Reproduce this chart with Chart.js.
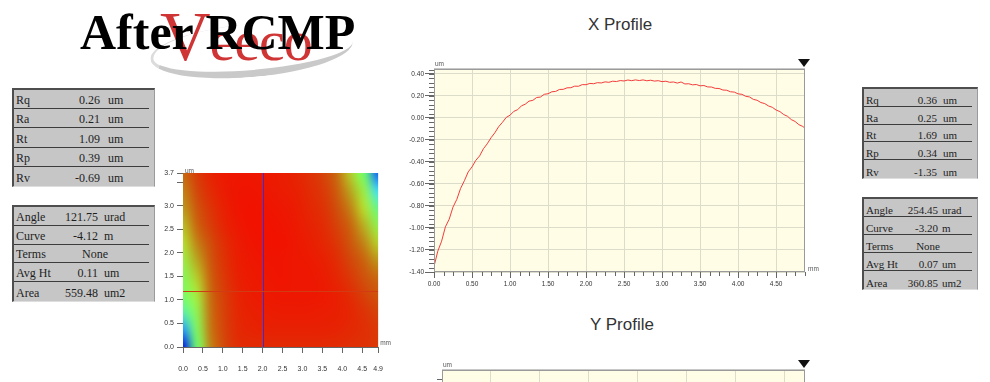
<!DOCTYPE html>
<html>
<head>
<meta charset="utf-8">
<script src="https://cdn.jsdelivr.net/npm/chart.js@4.4.1/dist/chart.umd.min.js"></script>
<style>
  html, body { margin: 0; padding: 0; background: #fff; }
  #page { position: relative; width: 990px; height: 382px; overflow: hidden; background: #fff; }
  canvas { position: absolute; }
  .title { position: absolute; left: 80px; top: 3px; font: bold 50px "Liberation Serif", "Times New Roman", serif; color: #000; z-index: 3; white-space: nowrap; }
  .logo { position: absolute; left: 160px; top: -3px; font: 58px "Liberation Serif", serif; color: #d03535; z-index: 2; letter-spacing: -1px; }
  .logo b { font-weight: normal; font-size: 70px; }
  .swoosh { position: absolute; left: 150px; top: 24px; width: 200px; height: 46px; border-radius: 50%; border-bottom: 7px solid #c9c9c9; border-left: 3px solid #dcdcdc; transform: rotate(-5deg); z-index: 1; }
  .ptitle { position: absolute; width: 200px; text-align: center; font: 17px "Liberation Sans", Arial, sans-serif; color: #333; }
  .box { position: absolute; background: #c6c6c6; border-top: 2px solid #4e4e4e; border-left: 2px solid #4e4e4e; border-right: 1px solid #9a9a9a; border-bottom: 1px solid #dedede; font-family: "Liberation Serif", "Times New Roman", serif; color: #1e1e1e; box-sizing: border-box; }
  .row { position: relative; border-bottom: 1px solid #3c3c3c; margin-right: 5px; box-sizing: border-box; }
  .row:last-child { border-bottom: none; }
  .row span { position: absolute; bottom: 0; white-space: nowrap; }
  .tri { position: absolute; width: 0; height: 0; border-left: 6px solid transparent; border-right: 6px solid transparent; border-top: 8px solid #111; }
</style>
</head>
<body>
<div id="page">
  <div class="swoosh"></div>
  <div class="logo"><b>V</b>eeco</div>
  <div class="title">After RCMP</div>
  <div class="ptitle" style="left:520px; top:15px;">X Profile</div>
  <div class="ptitle" style="left:522px; top:315px;">Y Profile</div>
  <div class="tri" style="left:798px; top:59px;"></div>
  <div class="tri" style="left:798px; top:360px;"></div>
  <canvas id="map" width="240" height="222" style="left:155px; top:160px;"></canvas>
  <canvas id="xprof" width="420" height="240" style="left:400px; top:55px;"></canvas>
  <canvas id="yprof" width="420" height="120" style="left:400px; top:350px;"></canvas>
</div>
<script>
// ---- X profile (um vs mm) ----
const xProfileX = [0.00,0.05,0.10,0.15,0.20,0.25,0.30,0.35,0.40,0.45,0.50,0.55,0.60,0.65,0.70,0.75,0.80,0.85,0.90,0.95,
  1.00,1.05,1.10,1.15,1.20,1.25,1.30,1.35,1.40,1.45,1.50,1.55,1.60,1.65,1.70,1.75,1.80,1.85,1.90,1.95,
  2.00,2.05,2.10,2.15,2.20,2.25,2.30,2.35,2.40,2.45,2.50,2.55,2.60,2.65,2.70,2.75,2.80,2.85,2.90,2.95,
  3.00,3.05,3.10,3.15,3.20,3.25,3.30,3.35,3.40,3.45,3.50,3.55,3.60,3.65,3.70,3.75,3.80,3.85,3.90,3.95,
  4.00,4.05,4.10,4.15,4.20,4.25,4.30,4.35,4.40,4.45,4.50,4.55,4.60,4.65,4.70,4.75,4.80,4.85,4.88];
const xProfileY = [-1.35,-1.21,-1.12,-0.99,-0.92,-0.81,-0.74,-0.64,-0.57,-0.49,-0.445,-0.385,-0.345,-0.28,-0.235,-0.18,-0.135,-0.08,-0.04,0.005,
  0.025,0.06,0.075,0.11,0.125,0.153,0.16,0.186,0.19,0.215,0.22,0.238,0.241,0.259,0.26,0.274,0.275,0.289,0.288,0.303,
  0.302,0.314,0.311,0.321,0.318,0.328,0.324,0.334,0.331,0.340,0.336,0.345,0.339,0.346,0.340,0.346,0.338,0.343,0.335,0.339,
  0.330,0.334,0.324,0.327,0.317,0.327,0.309,0.311,0.301,0.304,0.292,0.295,0.282,0.281,0.269,0.268,0.254,0.252,0.238,0.235,
  0.219,0.215,0.197,0.191,0.169,0.161,0.140,0.131,0.109,0.097,0.072,0.058,0.031,0.015,-0.015,-0.032,-0.061,-0.077,-0.092];
const xProfTicksX = [0,0.5,1,1.5,2,2.5,3,3.5,4,4.5];
const xProfTicksY = [-1.4,-1.2,-1.0,-0.8,-0.6,-0.4,-0.2,0,0.2,0.4];
const yProfTicksX = [0,0.5,1,1.5,2,2.5,3,3.5];

// ---- surface map (height, normalised 0..1), rows from y = 3.7 down to 0 ----
const heatX = [0,0.35,0.7,1.05,1.4,1.75,2.1,2.45,2.8,3.15,3.5,3.85,4.2,4.55,4.9];
const heatY = [3.7,3.33,2.96,2.59,2.22,1.85,1.48,1.11,0.74,0.37,0];
const heatZ = [
  [.62,.80,.91,.96,.97,.97,.96,.94,.91,.86,.78,.62,.46,.30,.08],
  [.58,.76,.88,.95,.98,.98,.97,.95,.93,.88,.82,.68,.52,.37,.20],
  [.54,.70,.84,.93,.98,.99,.98,.97,.95,.90,.85,.73,.58,.43,.28],
  [.48,.64,.80,.91,.97,.99,.99,.98,.96,.92,.88,.78,.64,.50,.36],
  [.43,.58,.74,.87,.95,.98,.99,.99,.97,.94,.90,.83,.70,.57,.45],
  [.38,.52,.70,.85,.94,.97,.98,.98,.97,.96,.93,.87,.76,.64,.54],
  [.34,.46,.66,.83,.93,.96,.97,.98,.97,.97,.95,.90,.82,.71,.62],
  [.32,.40,.62,.80,.91,.95,.96,.97,.97,.97,.96,.93,.87,.78,.70],
  [.26,.36,.61,.79,.90,.93,.94,.95,.95,.95,.94,.93,.90,.84,.77],
  [.14,.33,.60,.78,.89,.91,.92,.92,.92,.92,.92,.91,.89,.86,.82],
  [.00,.30,.58,.76,.87,.88,.88,.88,.88,.88,.88,.87,.86,.85,.82]
];
const mapTicksX = [0,0.5,1,1.5,2,2.5,3,3.5,4,4.5,4.9];
const mapTicksY = [0,0.5,1,1.5,2,2.5,3,3.5,3.7];
const cutX = 2.0, cutY = 1.2;

// ---- statistic tables ----
const statsLeftR = [['Rq','0.26','um'],['Ra','0.21','um'],['Rt','1.09','um'],['Rp','0.39','um'],['Rv','-0.69','um']];
const statsLeftF = [['Angle','121.75','urad'],['Curve','-4.12','m'],['Terms','None',''],['Avg Ht','0.11','um'],['Area','559.48','um2']];
const statsRightR = [['Rq','0.36','um'],['Ra','0.25','um'],['Rt','1.69','um'],['Rp','0.34','um'],['Rv','-1.35','um']];
const statsRightF = [['Angle','254.45','urad'],['Curve','-3.20','m'],['Terms','None',''],['Avg Ht','0.07','um'],['Area','360.85','um2']];

const page = document.getElementById('page');
const makeBox = (rows, b) => {
  const d = document.createElement('div');
  d.className = 'box';
  Object.assign(d.style, { left: b.left + 'px', top: b.top + 'px', width: b.w + 'px', height: b.h + 'px', fontSize: b.fs + 'px' });
  const rh = (b.h - 3) / rows.length;
  rows.forEach(([lab, val, unit]) => {
    const r = document.createElement('div');
    r.className = 'row';
    r.style.height = rh + 'px';
    const vr = unit ? b.valR : b.valR + b.noneShift;
    r.innerHTML = `<span style="left:2px">${lab}</span><span style="right:${b.w - 3 - 5 - vr}px">${val}</span>` +
      (unit ? `<span style="left:${b.unitL}px">${unit}</span>` : '');
    d.appendChild(r);
  });
  page.appendChild(d);
};
makeBox(statsLeftR, { left: 12, top: 88, w: 143, h: 99, fs: 12, valR: 86, unitL: 94, noneShift: 10 });
makeBox(statsLeftF, { left: 12, top: 205, w: 143, h: 97, fs: 12, valR: 84, unitL: 90, noneShift: 10 });
makeBox(statsRightR, { left: 862, top: 87, w: 116, h: 92, fs: 11, valR: 73, unitL: 79, noneShift: 2 });
makeBox(statsRightF, { left: 862, top: 197, w: 116, h: 93, fs: 11, valR: 74, unitL: 78, noneShift: 2 });

Chart.defaults.font.family = '"Liberation Sans", Arial, sans-serif';
Chart.defaults.color = '#333';

// colour ramp of the map: blue -> cyan -> green -> olive -> brown -> red
const ramp = [[0,[0,20,230]],[.1,[20,110,255]],[.2,[60,220,255]],[.3,[110,255,110]],[.42,[180,230,50]],
  [.52,[185,165,30]],[.62,[200,105,15]],[.75,[210,72,10]],[.88,[226,42,4]],[1,[242,16,0]]];
const colorAt = z => {
  for (let i = 1; i < ramp.length; i++) {
    if (z <= ramp[i][0]) {
      const [z0, c0] = ramp[i - 1], [z1, c1] = ramp[i];
      const t = (z - z0) / (z1 - z0);
      return c0.map((c, k) => Math.round(c + (c1[k] - c) * t));
    }
  }
  return ramp[ramp.length - 1][1];
};

const setTicks = arr => s => { s.ticks = arr.map(v => ({ value: v })); };
const tickFont = { size: 6.5 };

// fond, cornice, tacche minori ed etichette unità dei profili
const profileDecor = (minorX, minorY, ticksY) => ({
  id: 'profileDecor',
  beforeDraw(chart) {
    const { ctx, chartArea: a } = chart;
    ctx.save();
    ctx.fillStyle = '#fffde6';
    ctx.fillRect(a.left, a.top, a.width, a.height);
    ctx.restore();
  },
  afterDraw(chart) {
    const { ctx, chartArea: a, scales: { x, y } } = chart;
    ctx.save();
    ctx.strokeStyle = '#666';
    ctx.lineWidth = 1;
    ctx.beginPath();
    for (let v = x.min; v <= x.max + 1e-9; v += minorX) {
      const px = Math.round(x.getPixelForValue(v)) + 0.5;
      ctx.moveTo(px, a.bottom); ctx.lineTo(px, a.bottom + 4);
    }
    if (ticksY) {
      for (let v = y.min; v <= y.max + 1e-9; v += minorY) {
        const py = Math.round(y.getPixelForValue(v)) + 0.5;
        ctx.moveTo(a.left - 5, py); ctx.lineTo(a.left, py);
      }
    } else {
      const py = a.top + 9.5;
      ctx.moveTo(a.left - 5, py); ctx.lineTo(a.left, py);
    }
    ctx.stroke();
    ctx.strokeStyle = '#9a9a9a';
    ctx.strokeRect(a.left + 0.5, a.top + 0.5, a.width - 1, a.height - 1);
    ctx.strokeStyle = '#c8c8c8';
    ctx.beginPath(); ctx.moveTo(a.left, a.top - 0.5); ctx.lineTo(a.right, a.top - 0.5); ctx.stroke();
    ctx.fillStyle = '#555';
    ctx.font = '6.5px "Liberation Sans", Arial';
    ctx.textBaseline = 'bottom';
    ctx.fillText('um', a.left + 1, a.top - 2);
    ctx.textBaseline = 'middle';
    ctx.fillText('mm', a.right + 3, a.bottom - 3);
    ctx.restore();
  }
});

new Chart(document.getElementById('xprof'), {
  type: 'line',
  data: { datasets: [{ data: xProfileX.map((x, i) => ({ x, y: xProfileY[i] })), borderColor: '#f43c3c', borderWidth: 1, pointRadius: 0, tension: 0 }] },
  options: {
    responsive: false, animation: false, devicePixelRatio: 1,
    layout: { padding: { top: 14, right: 15, left: 0, bottom: 0 } },
    plugins: { legend: { display: false }, tooltip: { enabled: false } },
    scales: {
      x: {
        type: 'linear', min: 0, max: 4.88,
        afterBuildTicks: setTicks(xProfTicksX),
        afterFit: s => { s.height = 23; },
        ticks: { font: tickFont, padding: 2, maxRotation: 0, autoSkip: false, callback: v => v.toFixed(2) },
        grid: { color: '#dcdccb', tickColor: '#666', tickLength: 6 },
        border: { display: false }
      },
      y: {
        min: -1.4, max: 0.445,
        afterBuildTicks: setTicks(xProfTicksY),
        afterFit: s => { s.width = 34; },
        ticks: { font: tickFont, padding: 1, autoSkip: false, callback: v => v.toFixed(2) },
        grid: { color: '#dcdccb', tickColor: '#666', tickLength: 9 },
        border: { display: false }
      }
    }
  },
  plugins: [profileDecor(0.125, 0.04, true)]
});

new Chart(document.getElementById('yprof'), {
  type: 'line',
  data: { datasets: [{ data: [] }] },
  options: {
    responsive: false, animation: false, devicePixelRatio: 1,
    layout: { padding: { top: 20, right: 15, left: 0, bottom: 0 } },
    plugins: { legend: { display: false }, tooltip: { enabled: false } },
    scales: {
      x: {
        type: 'linear', min: 0, max: 3.71,
        afterBuildTicks: setTicks(yProfTicksX),
        afterFit: s => { s.height = 23; },
        ticks: { font: tickFont, padding: 2, maxRotation: 0, callback: v => v.toFixed(2) },
        grid: { color: '#dcdccb', tickColor: '#666', tickLength: 6 },
        border: { display: false }
      },
      y: {
        min: 0, max: 1,
        afterFit: s => { s.width = 42; },
        ticks: { display: false },
        grid: { display: false },
        border: { display: false }
      }
    }
  },
  plugins: [profileDecor(0.125, 0.04, false)]
});

const mapPlugin = {
  id: 'surface',
  beforeDatasetsDraw(chart) {
    const { ctx, chartArea: a, scales: { x, y } } = chart;
    const nx = heatX.length, ny = heatY.length;
    const off = document.createElement('canvas');
    off.width = nx; off.height = ny;
    const o = off.getContext('2d');
    const img = o.createImageData(nx, ny);
    heatZ.forEach((row, j) => row.forEach((z, i) => {
      const c = colorAt(z), k = (j * nx + i) * 4;
      img.data[k] = c[0]; img.data[k + 1] = c[1]; img.data[k + 2] = c[2]; img.data[k + 3] = 255;
    }));
    o.putImageData(img, 0, 0);
    const x0 = x.getPixelForValue(heatX[0]), x1 = x.getPixelForValue(heatX[nx - 1]);
    const y0 = y.getPixelForValue(heatY[0]), y1 = y.getPixelForValue(heatY[ny - 1]);
    const dx = (x1 - x0) / (nx - 1), dy = (y1 - y0) / (ny - 1);
    ctx.save();
    ctx.beginPath(); ctx.rect(a.left, a.top, a.width, a.height); ctx.clip();
    ctx.imageSmoothingEnabled = true;
    ctx.imageSmoothingQuality = 'high';
    ctx.drawImage(off, x0 - dx / 2, y0 - dy / 2, dx * nx, dy * ny);
    // linee di sezione dei due profili
    ctx.lineWidth = 1;
    ctx.strokeStyle = '#3030e0';
    const cx = Math.round(x.getPixelForValue(cutX)) + 0.5;
    ctx.beginPath(); ctx.moveTo(cx, a.top); ctx.lineTo(cx, a.bottom); ctx.stroke();
    ctx.strokeStyle = '#d23c14';
    const cy = Math.round(y.getPixelForValue(cutY)) + 0.5;
    ctx.beginPath(); ctx.moveTo(a.left, cy); ctx.lineTo(a.right, cy); ctx.stroke();
    ctx.restore();
    ctx.save();
    ctx.fillStyle = '#555';
    ctx.font = '6.5px "Liberation Sans", Arial';
    ctx.textBaseline = 'bottom';
    ctx.fillText('um', a.left + 2, a.top + 1);
    ctx.textBaseline = 'middle';
    ctx.fillText('mm', a.right + 2, a.bottom - 4);
    ctx.restore();
  }
};

new Chart(document.getElementById('map'), {
  type: 'scatter',
  data: { datasets: [{ data: [] }] },
  options: {
    responsive: false, animation: false, devicePixelRatio: 1,
    layout: { padding: { top: 13, right: 12, left: 0, bottom: 0 } },
    plugins: { legend: { display: false }, tooltip: { enabled: false } },
    scales: {
      x: {
        type: 'linear', min: 0, max: 4.9,
        afterBuildTicks: setTicks(mapTicksX),
        afterFit: s => { s.height = 35; },
        ticks: { font: { size: 7 }, padding: 12, maxRotation: 0, autoSkip: false, callback: v => v.toFixed(1) },
        grid: { drawOnChartArea: false, tickColor: '#666', tickLength: 6 },
        border: { color: '#666' }
      },
      y: {
        type: 'linear', min: 0, max: 3.7,
        afterBuildTicks: setTicks(mapTicksY),
        afterFit: s => { s.width = 28; },
        ticks: { font: { size: 7 }, padding: 3, autoSkip: false, callback: v => (v === 3.5 ? '' : v.toFixed(1)) },
        grid: { drawOnChartArea: false, tickColor: '#666', tickLength: 6 },
        border: { color: '#666' }
      }
    }
  },
  plugins: [mapPlugin]
});
</script>
</body>
</html>
